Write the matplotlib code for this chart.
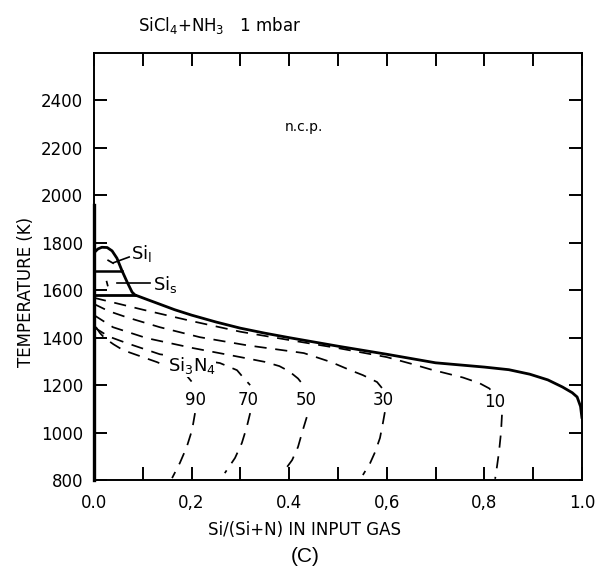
import numpy as np
import matplotlib
matplotlib.use("Agg")
import matplotlib.pyplot as plt

plt.rcParams['font.family'] = ['DejaVu Sans']

# phase boundary (solid): Si(l) dome then the Si3N4 / n.c.p. boundary
bound_x = [0.0, 0.008, 0.016, 0.027, 0.037, 0.047, 0.057, 0.068, 0.078, 0.084,
           0.11, 0.135, 0.165, 0.2, 0.25, 0.3, 0.35, 0.4, 0.45, 0.5, 0.55, 0.6,
           0.65, 0.7, 0.75, 0.8, 0.85, 0.893, 0.93, 0.96, 0.98, 0.99, 0.997, 1.0]
bound_T = [1758, 1774, 1781, 1780, 1766, 1735, 1684, 1634, 1592, 1580,
           1560, 1541, 1518, 1495, 1466, 1440, 1419, 1400, 1382, 1364, 1347, 1330,
           1312, 1294, 1285, 1276, 1265, 1246, 1222, 1192, 1168, 1150, 1110, 1060]

# Si melting / Si(s) limit lines
melt_T = 1680
melt_x = [0.0, 0.057]
solid_T = 1579
solid_x = [0.0, 0.084]

# deposition-efficiency contours (%), upper branch above the label
labels = ["90", "70", "50", "30", "10"]
up_x = {
    "10": [0.0, 0.04, 0.1, 0.2, 0.3, 0.4, 0.5, 0.6, 0.65, 0.69, 0.756, 0.79, 0.81, 0.818],
    "30": [0.0, 0.03, 0.067, 0.135, 0.217, 0.313, 0.43, 0.486, 0.525, 0.551, 0.58, 0.59],
    "50": [0.0, 0.039, 0.108, 0.203, 0.3, 0.35, 0.38, 0.4, 0.418, 0.432],
    "70": [0.0, 0.03, 0.067, 0.135, 0.2, 0.258, 0.293, 0.305, 0.32],
    "90": [0.004, 0.012, 0.022, 0.04, 0.06, 0.1, 0.129, 0.16, 0.19, 0.2],
}
up_T = {
    "10": [1568, 1548, 1518, 1470, 1425, 1390, 1356, 1318, 1290, 1266, 1232, 1208, 1186, 1168],
    "30": [1542, 1512, 1486, 1444, 1402, 1368, 1335, 1297, 1263, 1242, 1213, 1188],
    "50": [1495, 1444, 1398, 1356, 1318, 1298, 1280, 1258, 1228, 1192],
    "70": [1444, 1405, 1377, 1330, 1312, 1293, 1263, 1234, 1200],
    "90": [1445, 1420, 1398, 1372, 1347, 1318, 1297, 1270, 1240, 1215],
}
# lower branch below the label
low_x = {
    "10": [0.836, 0.834, 0.830, 0.826, 0.822],
    "30": [0.596, 0.592, 0.586, 0.576, 0.566, 0.551],
    "50": [0.436, 0.428, 0.418, 0.406, 0.391],
    "70": [0.32, 0.313, 0.303, 0.289, 0.268],
    "90": [0.207, 0.201, 0.19, 0.176, 0.16],
}
low_T = {
    "10": [1075, 1000, 920, 860, 805],
    "30": [1086, 1040, 977, 918, 872, 821],
    "50": [1065, 1011, 939, 884, 842],
    "70": [1082, 1023, 956, 893, 829],
    "90": [1082, 1011, 939, 872, 808],
}
label_x = {"90": 0.209, "70": 0.316, "50": 0.434, "30": 0.592, "10": 0.822}
label_T = {"90": 1137, "70": 1137, "50": 1137, "30": 1137, "10": 1128}

xticks = np.round(np.arange(0, 1.01, 0.1), 1)
xticklabels = ["0.0", "", "0,2", "", "0.4", "", "0,6", "", "0,8", "", "1.0"]
yticks = list(range(800, 2401, 200))

fig = plt.figure(figsize=(5.95, 5.77), dpi=100)
ax = fig.add_axes([94 / 595, 1 - 480 / 577, 488 / 595, 427 / 577])

dash = (0, (7, 5))
lw_d = 1.25

for k in labels:
    ax.plot(up_x[k], up_T[k], color='k', lw=lw_d, linestyle=dash, zorder=2)
    ax.plot(low_x[k], low_T[k], color='k', lw=lw_d, linestyle=dash, zorder=2)
    ax.text(label_x[k], label_T[k], k, ha='center', va='center', fontsize=12)

# short dashes inside the Si regions
ax.plot([0.029, 0.039], [1726, 1714], color='k', lw=lw_d)
ax.plot([0.026, 0.028], [1636, 1620], color='k', lw=lw_d)

ax.plot(bound_x, bound_T, color='k', lw=2.0, zorder=3, solid_capstyle='round')
ax.plot(melt_x, [melt_T, melt_T], color='k', lw=1.8, zorder=3)
ax.plot(solid_x, [solid_T, solid_T], color='k', lw=2.0, zorder=3)
ax.plot([0.0, 0.0], [1960, 800], color='k', lw=2.4, zorder=4, clip_on=False)

# region labels with leader lines
ax.plot([0.04, 0.072], [1716, 1740], color='k', lw=1.2)
ax.text(0.075, 1754, r"Si$_\mathregular{l}$", fontsize=13, va='center', ha='left')
ax.plot([0.047, 0.115], [1629, 1629], color='k', lw=1.2)
ax.text(0.121, 1625, r"Si$_\mathregular{s}$", fontsize=13, va='center', ha='left')
ax.text(0.2, 1282, r"Si$_\mathregular{3}$N$_\mathregular{4}$", fontsize=13,
        va='center', ha='center', zorder=5,
        bbox=dict(facecolor='white', edgecolor='none', pad=0.5))
ax.text(0.43, 2290, "n.c.p.", fontsize=10, ha='center', va='center')

ax.set_xlim(0, 1)
ax.set_ylim(800, 2600)
ax.set_xticks(xticks)
ax.set_xticklabels(xticklabels, fontsize=12)
ax.set_yticks(yticks)
ax.set_yticklabels([str(t) for t in yticks], fontsize=12)
ax.tick_params(direction='in', top=True, right=True, length=9.5, width=1.4)
ax.tick_params(axis='x', pad=10)
ax.tick_params(axis='y', pad=8)
for s in ax.spines.values():
    s.set_linewidth(1.4)

fig.text(304 / 595, 1 - 530 / 577, "Si/(Si+N) IN INPUT GAS", fontsize=12,
         ha='center', va='center')
fig.text(26 / 595, 1 - 292 / 577, "TEMPERATURE (K)", fontsize=12, rotation=90,
         ha='center', va='center')
fig.text(220 / 595, 1 - 26 / 577, r"SiCl$_\mathregular{4}$+NH$_\mathregular{3}$   1 mbar",
         fontsize=12, ha='center', va='center')
fig.text(305 / 595, 1 - 557 / 577, "(C)", fontsize=15, ha='center', va='center',
         family='Liberation Sans')

fig.savefig("out.png", dpi=100)
